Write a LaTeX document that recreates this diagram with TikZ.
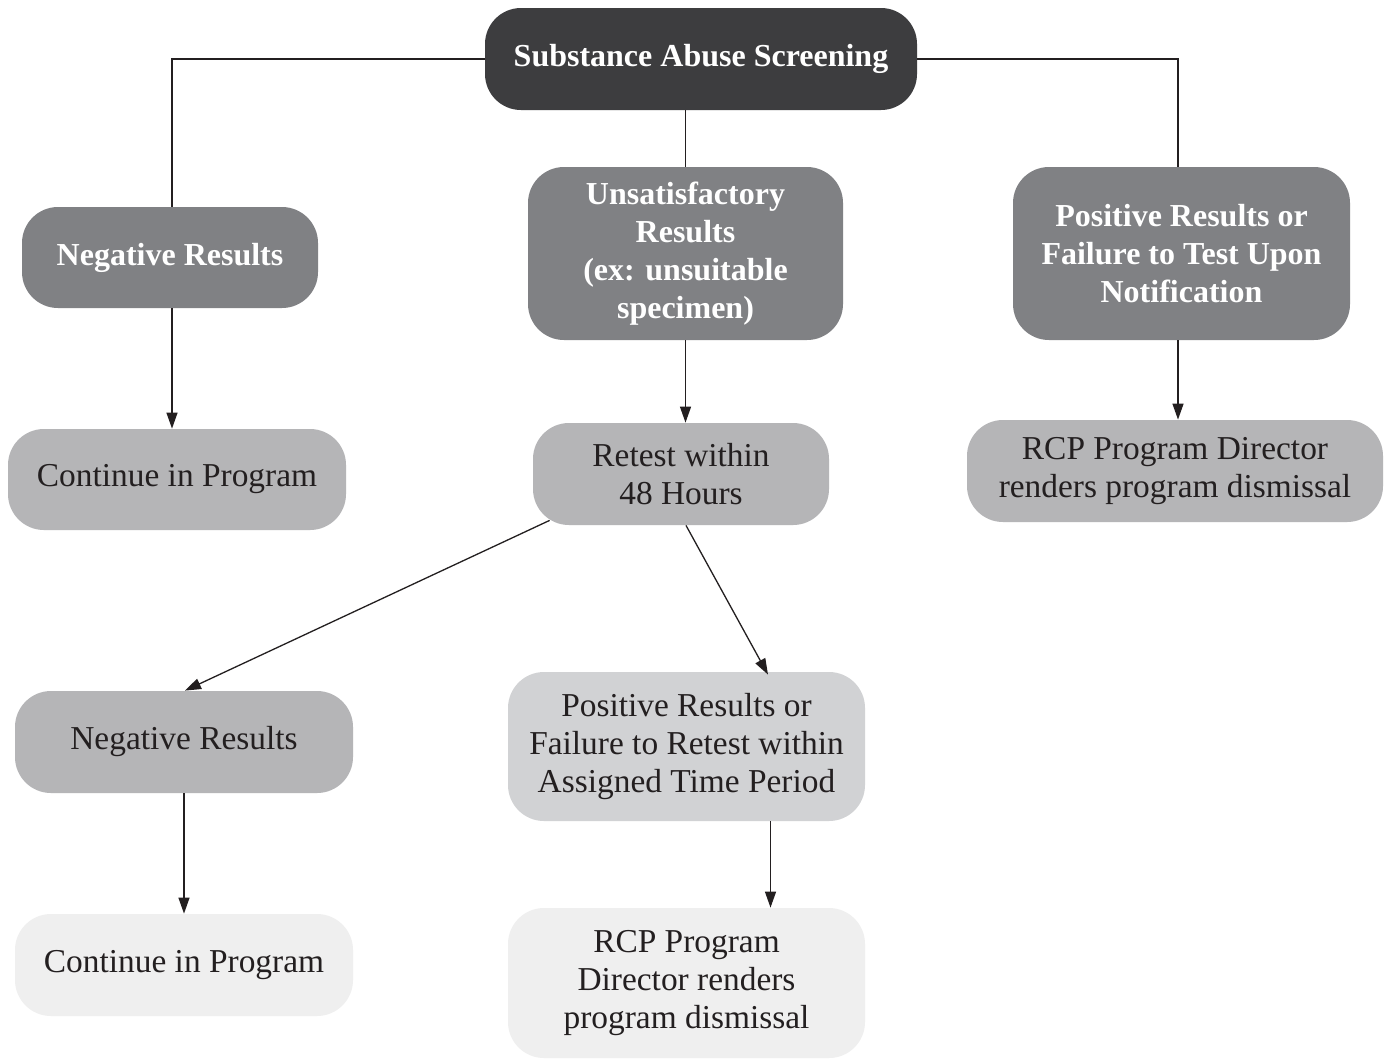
\documentclass[tikz,border=0pt]{standalone}
\usepackage{fontspec}
\setmainfont{Liberation Serif}
\usetikzlibrary{arrows.meta}
\definecolor{cdark}{HTML}{3D3D3F}
\definecolor{cmid}{HTML}{808184}
\definecolor{clight}{HTML}{B5B5B7}
\definecolor{clighter}{HTML}{D1D2D4}
\definecolor{cpale}{HTML}{EFEFEF}
\definecolor{cink}{HTML}{231F20}
\begin{document}
\begin{tikzpicture}[x=0.5pt,y=-0.5pt,
  box/.style={rounded corners=18pt, align=center, inner sep=0pt,
    font=\fontsize{16.7}{19}\selectfont},
  darkbox/.style={box, fill=#1, text=white, font=\fontsize{16}{19}\selectfont\bfseries},
  lightbox/.style={box, fill=#1, text=cink},
  conn/.style={draw=cink, line width=0.65pt},
  arr/.style={conn, -{Triangle[length=8pt,width=5.5pt]}}]
\useasboundingbox (0,0) rectangle (1385,1061);
\fill[white] (0,0) rectangle (1385,1061);

\node[darkbox=cdark, minimum width=216pt, minimum height=51pt] (top) at (701,59) {Substance Abuse Screening};
\node[darkbox=cmid, minimum width=148pt, minimum height=50.5pt] (neg1) at (170,257.5) {Negative Results};
\node[darkbox=cmid, minimum width=157.5pt, minimum height=86.5pt] (unsat) at (685.5,253.5) {Unsatisfactory\\Results\\(ex: unsuitable\\specimen)};
\node[darkbox=cmid, minimum width=168.5pt, minimum height=86.5pt] (pos1) at (1181.5,253.5) {Positive Results or\\Failure to Test Upon\\Notification};

\node[lightbox=clight, minimum width=169pt, minimum height=50.5pt] (cont1) at (177,479.5) {Continue in Program};
\node[lightbox=clight, minimum width=148pt, minimum height=51pt] (retest) at (681,474) {Retest within\\48 Hours};
\node[lightbox=clight, minimum width=208pt, minimum height=51pt] (rcp1) at (1175,471) {RCP Program Director\\renders program dismissal};

\node[lightbox=clight, minimum width=169pt, minimum height=51pt] (neg2) at (184,742) {Negative Results};
\node[lightbox=clighter, minimum width=178.5pt, minimum height=74.5pt] (pos2) at (686.5,746.5) {Positive Results or\\Failure to Retest within\\Assigned Time Period};

\node[lightbox=cpale, minimum width=169pt, minimum height=51pt] (cont2) at (184,965) {Continue in Program};
\node[lightbox=cpale, minimum width=178.5pt, minimum height=75pt] (rcp2) at (686.5,983) {RCP Program\\Director renders\\program dismissal};

\draw[conn] (top.west) -| ([xshift=1pt]neg1.north);
\draw[conn] (top.east) -| ([xshift=-1.75pt]pos1.north);
\draw[conn] (unsat.north |- top.south) -- (unsat.north);

\draw[arr] ([xshift=1pt]neg1.south) -- ([xshift=1pt]neg1.south |- cont1.north);
\draw[arr] (unsat.south) -- (unsat.south |- retest.north);
\draw[arr] ([xshift=-1.75pt]pos1.south) -- ([xshift=-1.75pt]pos1.south |- rcp1.north);

\draw[arr] ([shift={(17,-5)}]retest.south west) -- ([xshift=0.5pt]neg2.north);
\draw[arr] ([xshift=2.5pt]retest.south) -- ([shift={(81.5,3)}]pos2.north);

\draw[arr] (neg2.south) -- (cont2.north);
\draw[arr] ([xshift=42pt]pos2.south) -- ([xshift=42pt]pos2.south |- rcp2.north);
\end{tikzpicture}
\end{document}
